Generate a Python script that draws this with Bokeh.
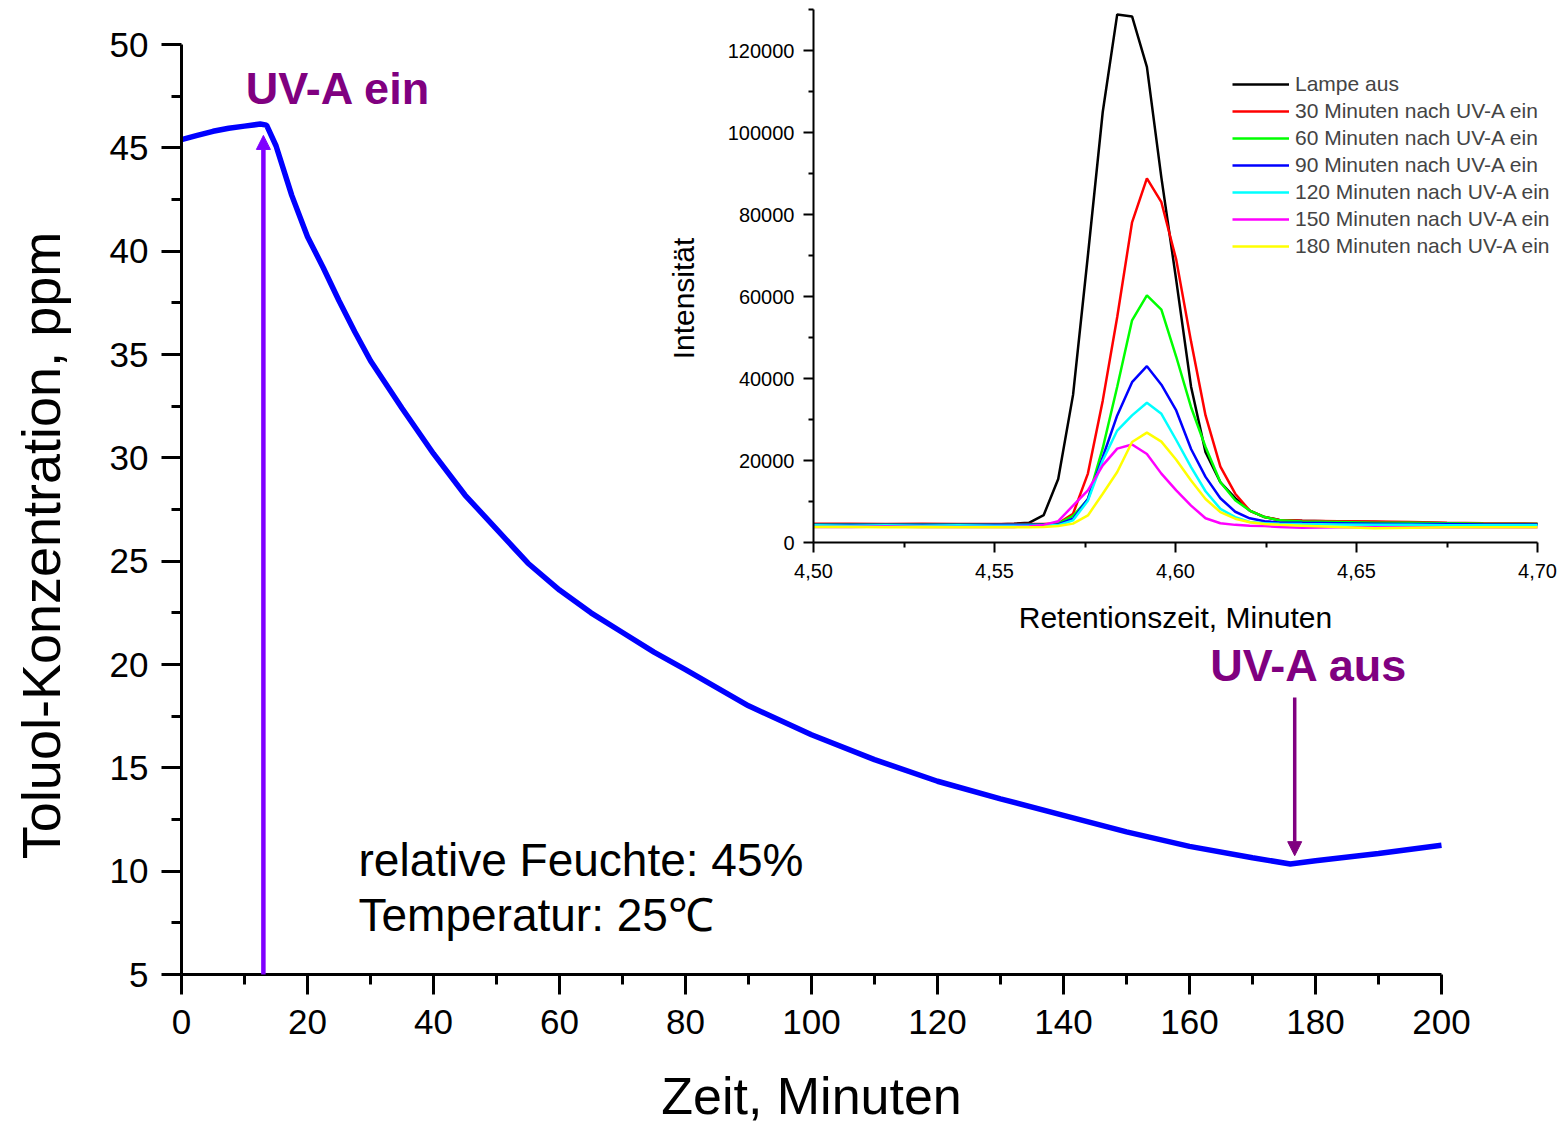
import math
from bokeh.plotting import figure
from bokeh.models import (LinearAxis, Range1d, FixedTicker, CustomJSTickFormatter,
                          Label, Arrow, NormalHead, Legend, LegendItem)
from bokeh.embed import file_html
from bokeh.resources import INLINE

# ---------------- data: main chart ----------------
zeit = [0, 2.5, 5, 7.5, 10, 12.5, 13.5, 15, 17.5, 20, 22.5, 25, 27.5, 30, 35, 40, 45, 50,
        55, 60, 65, 70, 75, 80, 90, 100, 110, 120, 130, 140, 150, 160, 170, 176, 180, 190, 200]
toluol = [45.4, 45.6, 45.8, 45.95, 46.05, 46.15, 46.1, 45.1, 42.7, 40.7, 39.2, 37.6, 36.1, 34.7,
          32.4, 30.2, 28.2, 26.55, 24.9, 23.6, 22.5, 21.55, 20.6, 19.75, 18.0, 16.6, 15.4, 14.35,
          13.5, 12.7, 11.9, 11.2, 10.65, 10.35, 10.5, 10.85, 11.25]
x_ticks = [0, 20, 40, 60, 80, 100, 120, 140, 160, 180, 200]
x_minor = [10, 30, 50, 70, 90, 110, 130, 150, 170, 190]
y_ticks = [5, 10, 15, 20, 25, 30, 35, 40, 45, 50]
y_minor = [7.5, 12.5, 17.5, 22.5, 27.5, 32.5, 37.5, 42.5, 47.5]
uv_ein_t = 13.0
uv_aus_t = 176.7

# ---------------- data: inset chromatograms ----------------
rt = [4.500, 4.510, 4.520, 4.530, 4.540, 4.550, 4.5554, 4.5595, 4.5636, 4.5676, 4.5717,
      4.5758, 4.5799, 4.5839, 4.5880, 4.5921, 4.5961, 4.6002, 4.6043, 4.6083, 4.6124,
      4.6165, 4.6205, 4.6246, 4.6287, 4.6350, 4.6450, 4.6550, 4.6650, 4.6750, 4.6850, 4.7000]
lampe_aus = [4300, 4300, 4400, 4300, 4300, 4400, 4600, 4800, 6700, 15500, 36000, 70000, 105000,
             128800, 128300, 116000, 89000, 64000, 38000, 22000, 14700, 10800, 7800, 6200, 5500,
             5300, 5100, 5000, 4800, 4700, 4600, 4500]
min30 = [4600, 4600, 4500, 4600, 4500, 4500, 4500, 4500, 4500, 4700, 7000, 16800, 34600, 55000,
         78100, 88800, 83000, 69000, 49000, 31000, 18500, 11900, 7800, 6200, 5500, 5300, 5200,
         5100, 5000, 4800, 4700, 4600]
min60 = [4400, 4400, 4400, 4400, 4400, 4300, 4300, 4400, 4400, 4600, 6500, 10500, 23000, 38000,
         54200, 60300, 56800, 45300, 33000, 23300, 14700, 10300, 7800, 6200, 5400, 5100, 5000,
         4800, 4800, 4700, 4600, 4500]
min90 = [4300, 4300, 4300, 4300, 4300, 4300, 4300, 4300, 4300, 4400, 5800, 10600, 20800, 31000,
         39100, 43000, 38500, 32200, 22800, 16000, 10800, 7500, 5900, 5200, 4900, 4800, 4700,
         4600, 4500, 4500, 4400, 4400]
min120 = [4200, 4100, 4200, 4100, 4200, 4100, 4100, 4100, 4200, 4200, 5400, 10200, 20000, 27300,
          31000, 34100, 31400, 25000, 18400, 12500, 8200, 6200, 5000, 4700, 4600, 4500, 4400,
          4300, 4300, 4200, 4200, 4200]
min150 = [3800, 3800, 3900, 3800, 3800, 3800, 3800, 3900, 4300, 5200, 9000, 12700, 18800, 22900,
          23900, 21600, 16800, 12700, 9000, 5900, 4700, 4300, 4100, 4000, 3800, 3600, 3700,
          3700, 3700, 3700, 3700, 3700]
min180 = [3800, 3800, 3700, 3800, 3700, 3700, 3700, 3700, 3800, 4000, 4600, 6600, 11900, 17200,
          24500, 26800, 24600, 20200, 15100, 10600, 7400, 5800, 4950, 4500, 4300, 4100, 3800,
          3500, 3600, 3700, 3700, 3700]
series_names = ["Lampe aus", "30 Minuten nach UV-A ein", "60 Minuten nach UV-A ein",
                "90 Minuten nach UV-A ein", "120 Minuten nach UV-A ein",
                "150 Minuten nach UV-A ein", "180 Minuten nach UV-A ein"]
series_vals = [lampe_aus, min30, min60, min90, min120, min150, min180]
series_colors = ["#000000", "#FF0000", "#00FF00", "#0000FF", "#00FFFF", "#FF00FF", "#FFFF00"]
rt_ticks = [4.50, 4.55, 4.60, 4.65, 4.70]
rt_minor = [4.525, 4.575, 4.625, 4.675]
int_ticks = [0, 20000, 40000, 60000, 80000, 100000, 120000]
int_minor = [10000, 30000, 50000, 70000, 90000, 110000, 130000]

# ---------------- layout geometry (pixels) ----------------
W, H = 1560, 1129
FONT = "Liberation Sans"
# main plot: x=0 at px 181, x=200 at px 1441 ; y=50 at px 44, y=5 at px 974
kx = (1441 - 181) / 200.0
mx0 = -181 / kx
mx1 = mx0 + W / kx
ky = (974 - 44) / 45.0
my1 = 50 + 44 / ky
my0 = my1 - H / ky
# inset: 4.50 at px 813, 4.70 at px 1537 ; 0 at px 542, 120000 at px 50
ikx = (1537 - 813) / 0.2
ix0 = 4.5 - 813 / ikx
ix1 = ix0 + W / ikx
iky = (542 - 50) / 120000.0
iy1 = 542 / iky
iy0 = iy1 - H / iky

p = figure(width=W, height=H, output_backend="svg", toolbar_location=None,
           x_range=Range1d(mx0, mx1), y_range=Range1d(my0, my1),
           x_axis_location=None, y_axis_location=None, min_border=0,
           outline_line_color=None, background_fill_color="white",
           border_fill_color="white")
p.grid.visible = False
p.extra_x_ranges = {"rt": Range1d(ix0, ix1)}
p.extra_y_ranges = {"int": Range1d(iy0, iy1)}


def style_axis(ax, lw, tick_out, minor_out, lab_size, title_size, standoff, title_standoff):
    ax.axis_line_width = lw
    ax.major_tick_line_width = lw
    ax.minor_tick_line_width = lw
    ax.major_tick_in = 0
    ax.minor_tick_in = 0
    ax.major_tick_out = tick_out
    ax.minor_tick_out = minor_out
    ax.major_label_text_font = FONT
    ax.major_label_text_font_size = lab_size
    ax.major_label_text_color = "black"
    ax.major_label_standoff = standoff
    ax.axis_label_text_font = FONT
    ax.axis_label_text_font_size = title_size
    ax.axis_label_text_font_style = "normal"
    ax.axis_label_text_color = "black"
    ax.axis_label_standoff = title_standoff


# main axes
ax_x = LinearAxis(fixed_location=5, bounds=(0, 200),
                  ticker=FixedTicker(ticks=x_ticks, minor_ticks=x_minor),
                  axis_label="Zeit, Minuten")
style_axis(ax_x, 3, 20, 10, "35px", "52px", 15, 30)
p.add_layout(ax_x, "below")

ax_y = LinearAxis(fixed_location=0, bounds=(5, 50),
                  ticker=FixedTicker(ticks=y_ticks, minor_ticks=y_minor))
style_axis(ax_y, 3, 20, 10, "35px", "54px", 13, 40)
p.add_layout(ax_y, "left")

# inset axes
iax_x = LinearAxis(x_range_name="rt", y_range_name="int", fixed_location=0,
                   bounds=(4.5, 4.7),
                   ticker=FixedTicker(ticks=rt_ticks, minor_ticks=rt_minor),
                   formatter=CustomJSTickFormatter(code="return tick.toFixed(2).replace('.', ',')"),
                   axis_label="Retentionszeit, Minuten")
style_axis(iax_x, 2, 10, 5, "20px", "30px", 11, 20)
p.add_layout(iax_x, "below")

iax_y = LinearAxis(x_range_name="rt", y_range_name="int", fixed_location=4.5,
                   bounds=(0, 130000),
                   ticker=FixedTicker(ticks=int_ticks, minor_ticks=int_minor),
                   formatter=CustomJSTickFormatter(code="return tick.toFixed(0)"))
style_axis(iax_y, 2, 10, 5, "20px", "30px", 9, 22)
p.add_layout(iax_y, "left")

# axis titles placed as in the reference
p.add_layout(Label(x=40, y=H - 545, x_units="screen", y_units="screen",
                   text="Toluol-Konzentration, ppm", angle=math.pi / 2,
                   text_font=FONT, text_font_size="54px", text_color="black",
                   text_align="center", text_baseline="middle"))
p.add_layout(Label(x=683, y=H - 298, x_units="screen", y_units="screen",
                   text="Intensität", angle=math.pi / 2,
                   text_font=FONT, text_font_size="30px", text_color="black",
                   text_align="center", text_baseline="middle"))

# inset lines
items = []
for name, vals, col in zip(series_names, series_vals, series_colors):
    r = p.line(rt, vals, x_range_name="rt", y_range_name="int",
               line_color=col, line_width=2.5)
    items.append(LegendItem(label=name, renderers=[r]))

legend = Legend(items=items, location=(1232, 870), padding=0, margin=0,
                glyph_width=57, glyph_height=26, label_height=26, spacing=1,
                label_standoff=6, border_line_color=None, background_fill_alpha=0,
                label_text_font=FONT, label_text_font_size="21px")
p.add_layout(legend)

# main curve
p.line(zeit, toluol, line_color="#0000FF", line_width=5.5)

# arrows
p.add_layout(Arrow(x_start=uv_ein_t, y_start=5, x_end=uv_ein_t, y_end=45.6,
                   line_color="#7F00FF", line_width=4.5,
                   end=NormalHead(size=14, fill_color="#7F00FF", line_color="#7F00FF",
                                  line_width=1)))
p.add_layout(Arrow(x_start=uv_aus_t, y_start=18.4, x_end=uv_aus_t, y_end=10.75,
                   line_color="#800080", line_width=3.5,
                   end=NormalHead(size=14, fill_color="#800080", line_color="#800080",
                                  line_width=1)))

# texts
p.add_layout(Label(x=10.2, y=47.87, text="UV-A ein", text_font=FONT, text_font_size="45px",
                   text_font_style="bold", text_color="#800080", text_baseline="middle",
                   text_align="left"))
p.add_layout(Label(x=163.3, y=19.95, text="UV-A aus", text_font=FONT, text_font_size="45px",
                   text_font_style="bold", text_color="#800080", text_baseline="middle",
                   text_align="left"))
p.add_layout(Label(x=28.1, y=10.52, text="relative Feuchte: 45%", text_font=FONT,
                   text_font_size="46px", text_color="black", text_baseline="middle",
                   text_align="left"))
p.add_layout(Label(x=28.1, y=7.86, text="Temperatur: 25\u2103", text_font=FONT,
                   text_font_size="46px", text_color="black", text_baseline="middle",
                   text_align="left"))

open("out.html", "w").write(file_html(p, INLINE))
